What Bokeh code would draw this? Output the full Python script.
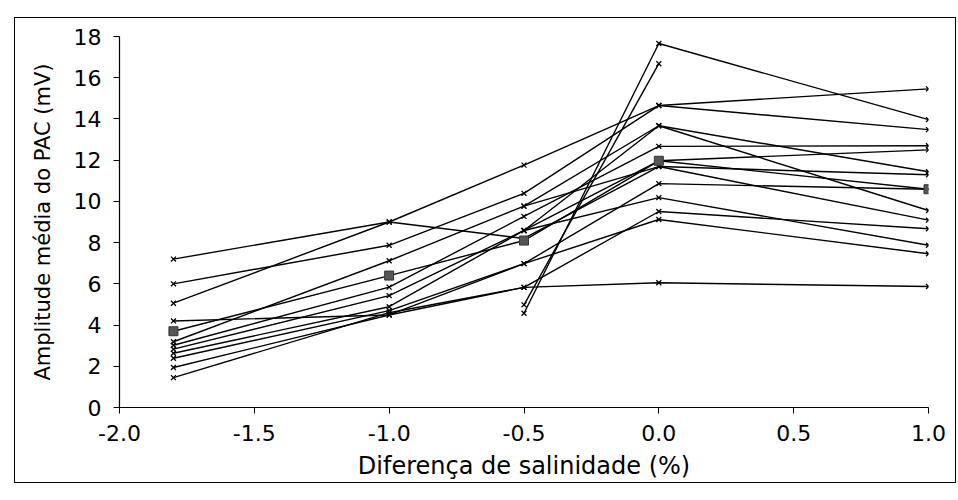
from bokeh.plotting import figure
from bokeh.models import FixedTicker, NumeralTickFormatter, Range1d
from bokeh.embed import file_html
from bokeh.resources import INLINE

nan = float("nan")

salinity = [-1.8, -1.0, -0.5, 0.0, 1.0]
x_ticks = [-2.0, -1.5, -1.0, -0.5, 0.0, 0.5, 1.0]
y_ticks = [0, 2, 4, 6, 8, 10, 12, 14, 16, 18]

# individual series (mV), nan = no measurement
s01 = [7.20, 9.00, 8.20, 11.69, 11.29]
s02 = [5.06, 9.00, 11.76, 14.65, 15.46]
s03 = [6.00, 7.87, 10.39, 14.65, 13.48]
s04 = [4.20, 4.49, 5.83, 6.05, 5.87]
s05 = [3.19, 7.12, 9.77, 13.67, 9.56]
s06 = [3.02, 5.84, 9.27, 12.67, 12.70]
s07 = [2.83, 5.43, 8.59, 11.97, 12.50]
s08 = [2.63, 4.89, 8.59, 13.67, 11.44]
s09 = [2.39, 4.70, 6.98, 10.86, 10.59]
s10 = [1.94, 4.49, 6.98, 9.12, 7.46]
s11 = [1.45, 4.60, 5.83, 9.51, 8.67]
s12 = [nan, nan, 4.98, 16.68, nan]
s13 = [nan, nan, 4.57, 17.66, 13.97]
s14 = [nan, nan, 9.77, 11.69, 9.09]
s15 = [nan, nan, 8.59, 10.18, 7.87]
mean = [3.70, 6.40, 8.10, 11.97, 10.59]

series = [s01, s02, s03, s04, s05, s06, s07, s08, s09, s10, s11, s12, s13, s14, s15]

p = figure(width=940, height=464, output_backend="svg", toolbar_location=None,
           x_range=Range1d(-2.0, 1.0), y_range=Range1d(0, 18),
           min_border_left=104, min_border_right=27, min_border_top=18, min_border_bottom=75,
           margin=(18, 3, 18, 15), styles={"outline": "1.5px solid black"})
p.outline_line_color = None
p.grid.visible = False
p.background_fill_color = "white"
p.border_fill_color = "white"

for s in series:
    xs = [x for x, v in zip(salinity, s) if v == v]
    ys = [v for v in s if v == v]
    p.line(xs, ys, line_color="black", line_width=1.4)
    p.scatter(xs, ys, marker="x", size=7, line_color="black", line_width=1.3)

p.line(salinity, mean, line_color="black", line_width=1.4)
p.scatter(salinity, mean, marker="square", size=9, fill_color="#555555", line_color="#333333")

font = "DejaVu Sans"
p.xaxis.ticker = FixedTicker(ticks=x_ticks)
p.yaxis.ticker = FixedTicker(ticks=y_ticks)
p.xaxis.formatter = NumeralTickFormatter(format="0.0")
for ax in (p.xaxis, p.yaxis):
    ax.axis_line_color = "black"
    ax.axis_line_width = 1.2
    ax.major_tick_line_color = "black"
    ax.major_tick_out = 6
    ax.major_tick_in = 0
    ax.minor_tick_line_color = None
    ax.major_label_text_font = font
    ax.major_label_text_font_size = "22px"
    ax.major_label_text_color = "black"
    ax.axis_label_text_font = font
    ax.axis_label_text_font_style = "normal"
    ax.axis_label_text_color = "black"
p.xaxis.axis_label = "Diferença de salinidade (%)"
p.yaxis.axis_label = "Amplitude média do PAC (mV)"
p.xaxis.axis_label_text_font_size = "24px"
p.yaxis.axis_label_text_font_size = "21px"
p.xaxis.major_label_standoff = 11
p.yaxis.major_label_standoff = 12
p.xaxis.axis_label_standoff = 8
p.yaxis.axis_label_standoff = 16

open("out.html", "w").write(file_html(p, INLINE))
